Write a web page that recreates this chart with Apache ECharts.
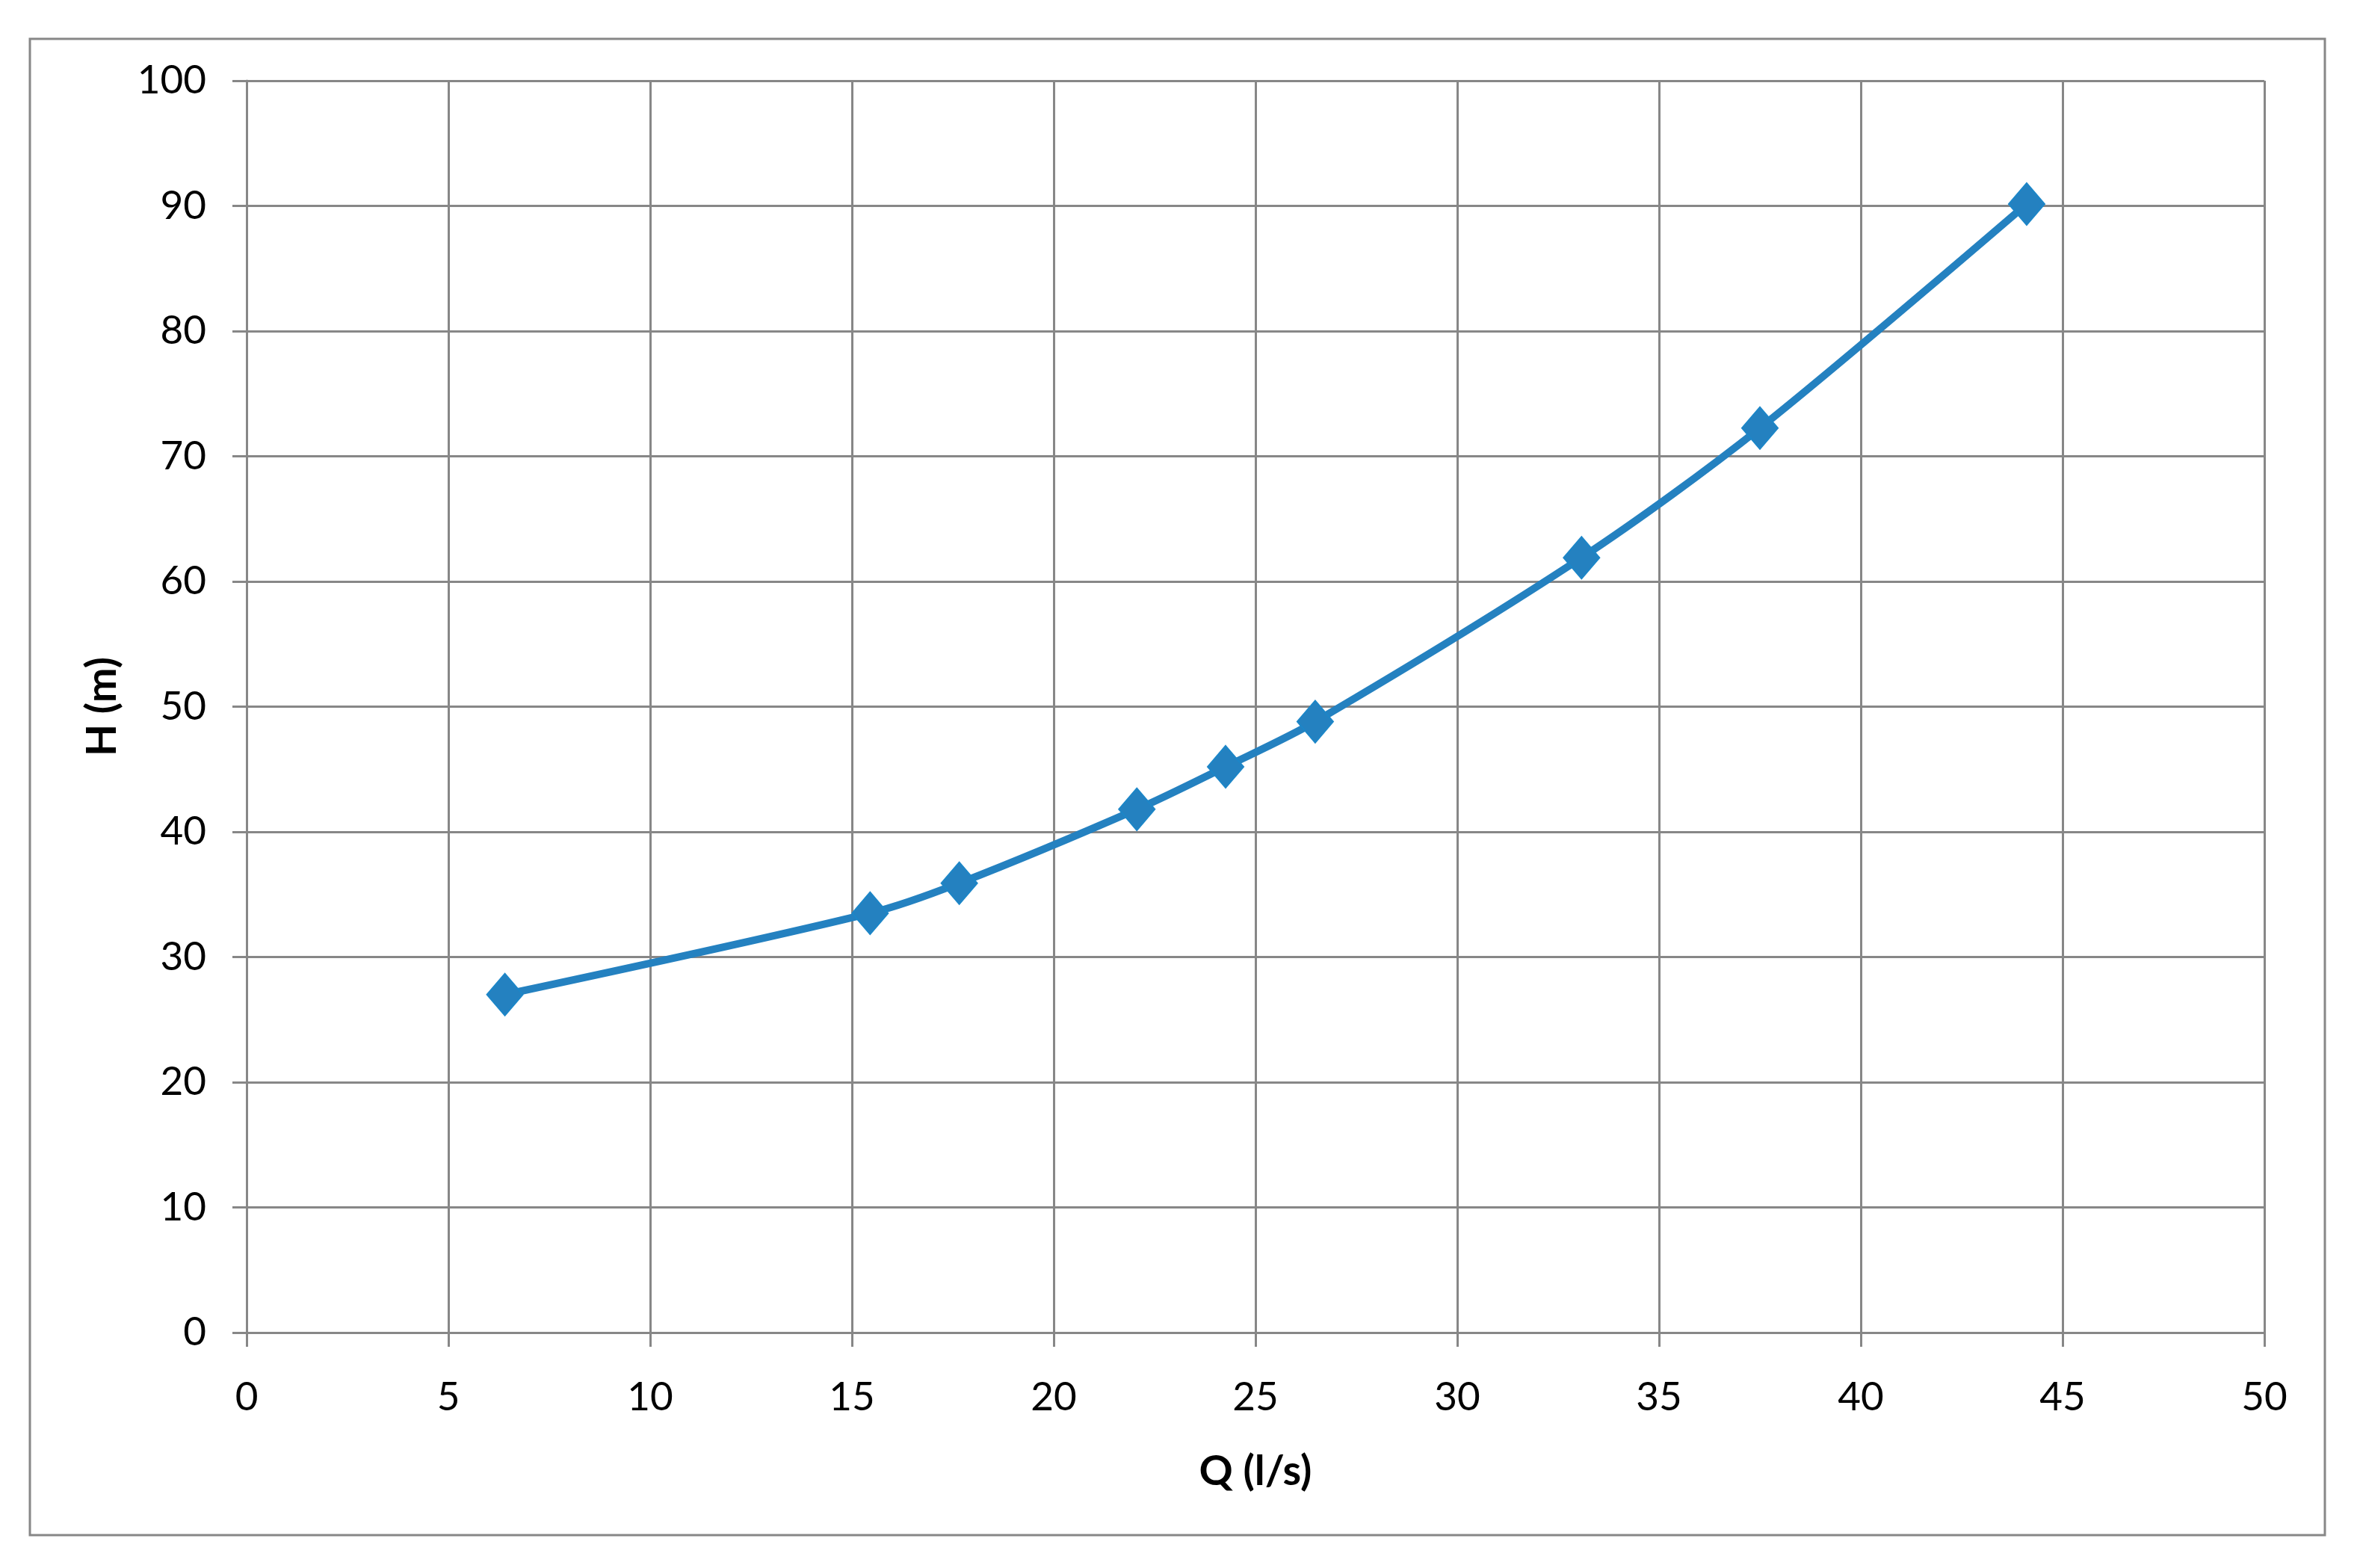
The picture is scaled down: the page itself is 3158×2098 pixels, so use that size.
<!DOCTYPE html>
<html>
<head>
<meta charset="utf-8">
<script src="https://cdn.jsdelivr.net/npm/echarts@6/dist/echarts.min.js"></script>
<style>
html,body{margin:0;padding:0;background:#fff;}
#c{width:3158px;height:2098px;}
</style>
</head>
<body>
<div id="c"></div>
<script>
var flowQ = [6.4, 15.45, 17.66, 22.06, 24.26, 26.48, 33.08, 37.5, 44.11];
var headH = [27.0, 33.5, 35.9, 41.8, 45.2, 48.8, 61.9, 72.25, 90.15];
var xAxisName = 'Q (l/s)';
var yAxisName = 'H (m)';

var points = flowQ.map(function(q, i){ return [q, headH[i]]; });
var chart = echarts.init(document.getElementById('c'));
var gridColor = '#878787';
var font = 'Lato, "Open Sans", sans-serif';
chart.setOption({
  backgroundColor: '#fff',
  animation: false,
  graphic: [{
    type: 'rect',
    shape: {x: 40, y: 52, width: 3071, height: 2002},
    style: {fill: 'none', stroke: gridColor, lineWidth: 3},
    silent: true
  }],
  grid: {left: 330, right: 128, top: 108, bottom: 315, containLabel: false},
  xAxis: {
    type: 'value', min: 0, max: 50, interval: 5,
    name: xAxisName, nameLocation: 'middle', nameGap: 158,
    nameTextStyle: {fontFamily: font, fontSize: 56, fontWeight: 'bold', color: '#000'},
    axisLine: {show: true, lineStyle: {color: gridColor, width: 3}},
    axisTick: {show: true, length: 19, lineStyle: {color: gridColor, width: 3}},
    axisLabel: {fontFamily: font, fontSize: 53, color: '#000', margin: 60},
    splitLine: {show: true, lineStyle: {color: gridColor, width: 3}}
  },
  yAxis: {
    type: 'value', min: 0, max: 100, interval: 10,
    name: yAxisName, nameLocation: 'middle', nameGap: 165, nameRotate: 90,
    nameTextStyle: {fontFamily: font, fontSize: 56, fontWeight: 'bold', color: '#000'},
    axisLine: {show: true, lineStyle: {color: gridColor, width: 3}},
    axisTick: {show: true, length: 19, lineStyle: {color: gridColor, width: 3}},
    axisLabel: {fontFamily: font, fontSize: 53, color: '#000', margin: 54},
    splitLine: {show: true, lineStyle: {color: gridColor, width: 3}}
  },
  series: [{
    type: 'line',
    data: points,
    smooth: 0.3,
    symbol: 'diamond',
    symbolSize: [48, 56],
    lineStyle: {color: '#2481C0', width: 10},
    itemStyle: {color: '#2481C0', borderColor: '#1C86C8', borderWidth: 2}
  }]
});
</script>
</body>
</html>
